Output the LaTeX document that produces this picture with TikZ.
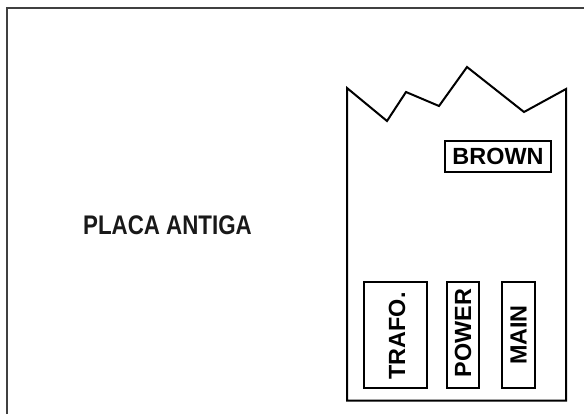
\documentclass[tikz,border=0pt]{standalone}
\usepackage{fontspec}
\setmainfont{Liberation Sans}[BoldFont={Liberation Sans Bold}]
\newfontfamily\labelfont{Liberation Sans Bold}
\begin{document}
\begin{tikzpicture}[x=1bp,y=-1bp,
  box/.style={draw=black,line width=1.6bp,inner sep=0pt},
  lbl/.style={font=\labelfont\fontsize{23.5}{24}\selectfont,inner sep=0pt}]
\useasboundingbox (0,0) rectangle (584,414);
% outer frame (only top and left visible)
\draw[line width=1.5bp,black!75] (7,414) -- (7,8) -- (584,8);
% board outline with torn top
\draw[line width=2bp,line join=miter] (347,88) -- (387,121) -- (406,92) -- (439,106) -- (467,67) -- (524,112) -- (566,89) -- (566,400.5) -- (347,400.5) -- cycle;
% BROWN
\node[box,minimum width=106bp,minimum height=31bp] (brownbox) at (498,156.5) {};
\node[lbl] (brown) at (brownbox.center) {BROWN};
% bottom boxes
\node[box,minimum width=63bp,minimum height=106bp] (trafobox) at (395.5,335) {};
\node[lbl,rotate=90] (trafo) at (397,336) {TRAFO.};
\node[box,minimum width=32bp,minimum height=106bp] (powerbox) at (463,335) {};
\node[lbl,rotate=90] (power) at (463,333) {POWER};
\node[box,minimum width=33bp,minimum height=106bp] (mainbox) at (518.5,335) {};
\node[lbl,rotate=90] (main) at (518.5,335) {MAIN};
% label
\node[inner sep=0pt,text=black!90] (placa) at (167.5,225) {\scalebox{0.83}[1]{\labelfont\fontsize{27}{28}\selectfont PLACA ANTIGA}};
\end{tikzpicture}
\end{document}
